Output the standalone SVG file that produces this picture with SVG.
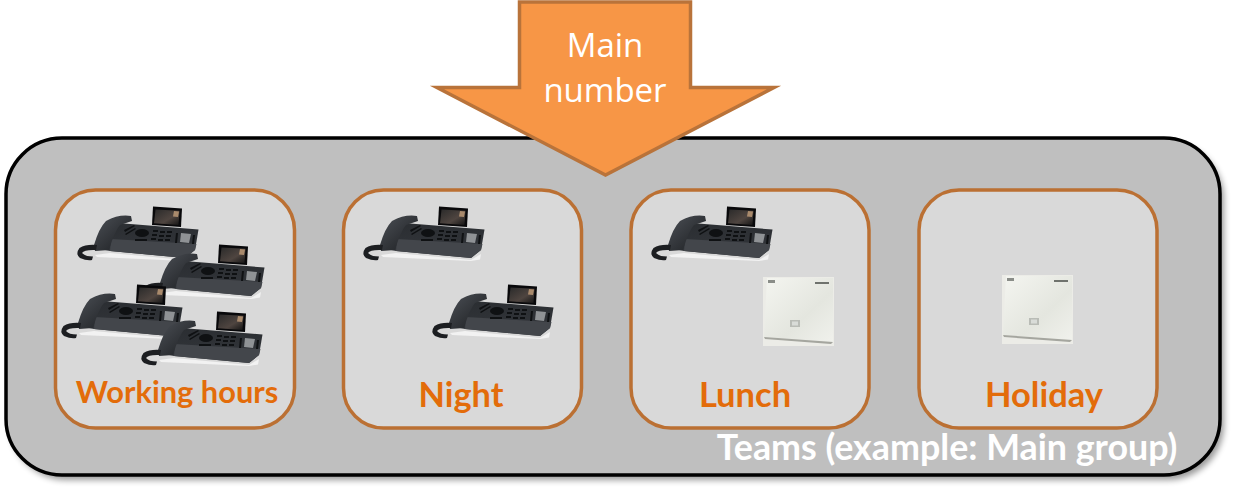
<svg xmlns="http://www.w3.org/2000/svg" width="1234" height="492" viewBox="0 0 1234 492">
<style>
.panel{fill:#d9d9d9;stroke:#bb7033;stroke-width:3.5}
.lbl{font-family:"Lato","Open Sans",sans-serif;font-weight:700;fill:#e36c0a;text-anchor:middle}
.arrowtxt{font-family:"Open Sans","Noto Sans",sans-serif;font-size:33px;fill:#fff;text-anchor:middle}
.team{font-family:"Lato","Open Sans",sans-serif;font-weight:700;font-size:35.8px;fill:#fff;text-anchor:middle}
.k{fill:#0f1113}
</style>
<defs>
<filter id="sh" x="-3%" y="-6%" width="106%" height="114%"><feGaussianBlur stdDeviation="3"/></filter>
<linearGradient id="body" x1="0" y1="0" x2="0" y2="1"><stop offset="0" stop-color="#2b2e32"/><stop offset="1" stop-color="#33363b"/></linearGradient>
<linearGradient id="hs" x1="0" y1="0" x2="1" y2="1"><stop offset="0" stop-color="#4c5056"/><stop offset="1" stop-color="#1a1c1f"/></linearGradient>
<linearGradient id="scr" x1="0" y1="0" x2="1" y2="1"><stop offset="0" stop-color="#2a2a2a"/><stop offset="0.6" stop-color="#4f4540"/><stop offset="1" stop-color="#141414"/></linearGradient>
<linearGradient id="wb" x1="0" y1="0" x2="1" y2="1"><stop offset="0" stop-color="#f4f5f0"/><stop offset="0.6" stop-color="#e4e6df"/><stop offset="1" stop-color="#f0f1ec"/></linearGradient>
<g id="phone">
<path d="M18 49 L33 47 L108 54 L118 48 L117 53.500 L108 55 L20 51Z" fill="#f2f2f2"/>
<path d="M76 0.500 L105 2.500 L104 21 L75 19Z" fill="#08080a"/>
<path d="M78.500 3.500 L102.500 4.800 L101.500 19 L77 17.200Z" fill="url(#scr)"/>
<path d="M97 5 L102 5.500 L101 11 L96 10.500Z" fill="#a98a6c"/>
<path d="M41 17 L121.500 23.500 L118 44 L108 52 L33 45 L28 44Z" fill="url(#body)"/>
<path d="M34 33 L119.500 38 L118 44 L108 52 L33 45Z" fill="#43464b"/>
<path d="M17 39 Q22 22 29 15 Q42 8 54 10 L55 15 L43 19 Q38 24 32 44 L18 45Z" fill="url(#hs)"/>
<path d="M20 39 Q9 38 2.500 42 Q-2 48 3 52 Q10 55 15 54 L16 50.500 Q8 50.500 5 47 Q7 43.500 19 44Z" fill="#1c1e21"/>
<g class="k">
<path d="M47 24l10-5 1 1-10 6zM48 28l10-6 1 1-10 6z"/>
<ellipse cx="65" cy="27" rx="7" ry="4"/>
<rect x="58" y="33" width="12" height="2"/>
<rect x="76" y="24" width="5" height="2"/><rect x="83" y="25" width="5" height="2"/><rect x="90" y="25" width="5" height="2"/>
<rect x="75" y="28" width="5" height="2"/><rect x="82" y="29" width="5" height="2"/><rect x="89" y="29" width="5" height="2"/>
<rect x="74" y="32" width="5" height="2"/><rect x="81" y="33" width="5" height="2"/><rect x="88" y="33" width="5" height="2"/>
<path d="M99 27l2 0-1 10-2 0zM116 29l2 0-1 9-2 0z"/>
</g>
<path d="M104 27l10 1-2 9-9-1z" fill="#8f9295"/>
</g>
<g id="base">
<rect x="0" y="0" width="71" height="69" fill="#ecece7"/>
<path d="M4 1 L70 1 L70 65 L1 60Z" fill="url(#wb)"/>
<path d="M1 60 L70 65 L68 67 L2 62Z" fill="#a5a69f"/>
<rect x="27" y="43" width="10" height="7" fill="#b9bcb6"/>
<rect x="29" y="44.500" width="6" height="4" fill="#d9dcd8"/>
<rect x="5" y="3" width="7" height="3" fill="#8a8d88"/>
<rect x="52" y="5" width="14" height="2" fill="#6f726d"/>
</g>
</defs>

<g id="team-container">
<rect x="10" y="143" width="1214" height="337" rx="56" fill="#000" opacity="0.4" filter="url(#sh)"/>
<rect x="6" y="138" width="1214" height="337" rx="56" fill="#bfbfbf" stroke="#000" stroke-width="3.500"/>
<text class="team" x="947" y="460">Teams (example: Main group)</text>
</g>

<g id="panel-working-hours">
<rect class="panel" x="55.500" y="190" width="239" height="238" rx="40"/>
<use href="#phone" x="77" y="206"/>
<use href="#phone" x="143" y="244"/>
<use href="#phone" x="61" y="284"/>
<use href="#phone" x="141" y="311"/>
<text class="lbl" x="177" y="403" font-size="30.800">Working hours</text>
</g>
<g id="panel-night">
<rect class="panel" x="343.500" y="190" width="238" height="238" rx="40"/>
<use href="#phone" x="363" y="206"/>
<use href="#phone" x="432" y="284"/>
<text class="lbl" x="461" y="407" font-size="34.300">Night</text>
</g>
<g id="panel-lunch">
<rect class="panel" x="631" y="190" width="238" height="238" rx="40"/>
<use href="#phone" x="651" y="206"/>
<use href="#base" x="763" y="277"/>
<text class="lbl" x="745" y="407" font-size="34.500">Lunch</text>
</g>
<g id="panel-holiday">
<rect class="panel" x="919" y="190" width="238" height="238" rx="40"/>
<use href="#base" x="1002" y="275"/>
<text class="lbl" x="1044" y="407" font-size="34.500">Holiday</text>
</g>

<g id="main-number">
<path d="M519.500 2 H690.500 V87.500 H774 L605.500 175 L437 87.500 H519.500Z" fill="#f79646" stroke="#b9733a" stroke-width="3.500" stroke-miterlimit="10"/>
<text class="arrowtxt" x="605" y="57">Main</text>
<text class="arrowtxt" x="605" y="102">number</text>
</g>
<g id="connectors"/>
</svg>
